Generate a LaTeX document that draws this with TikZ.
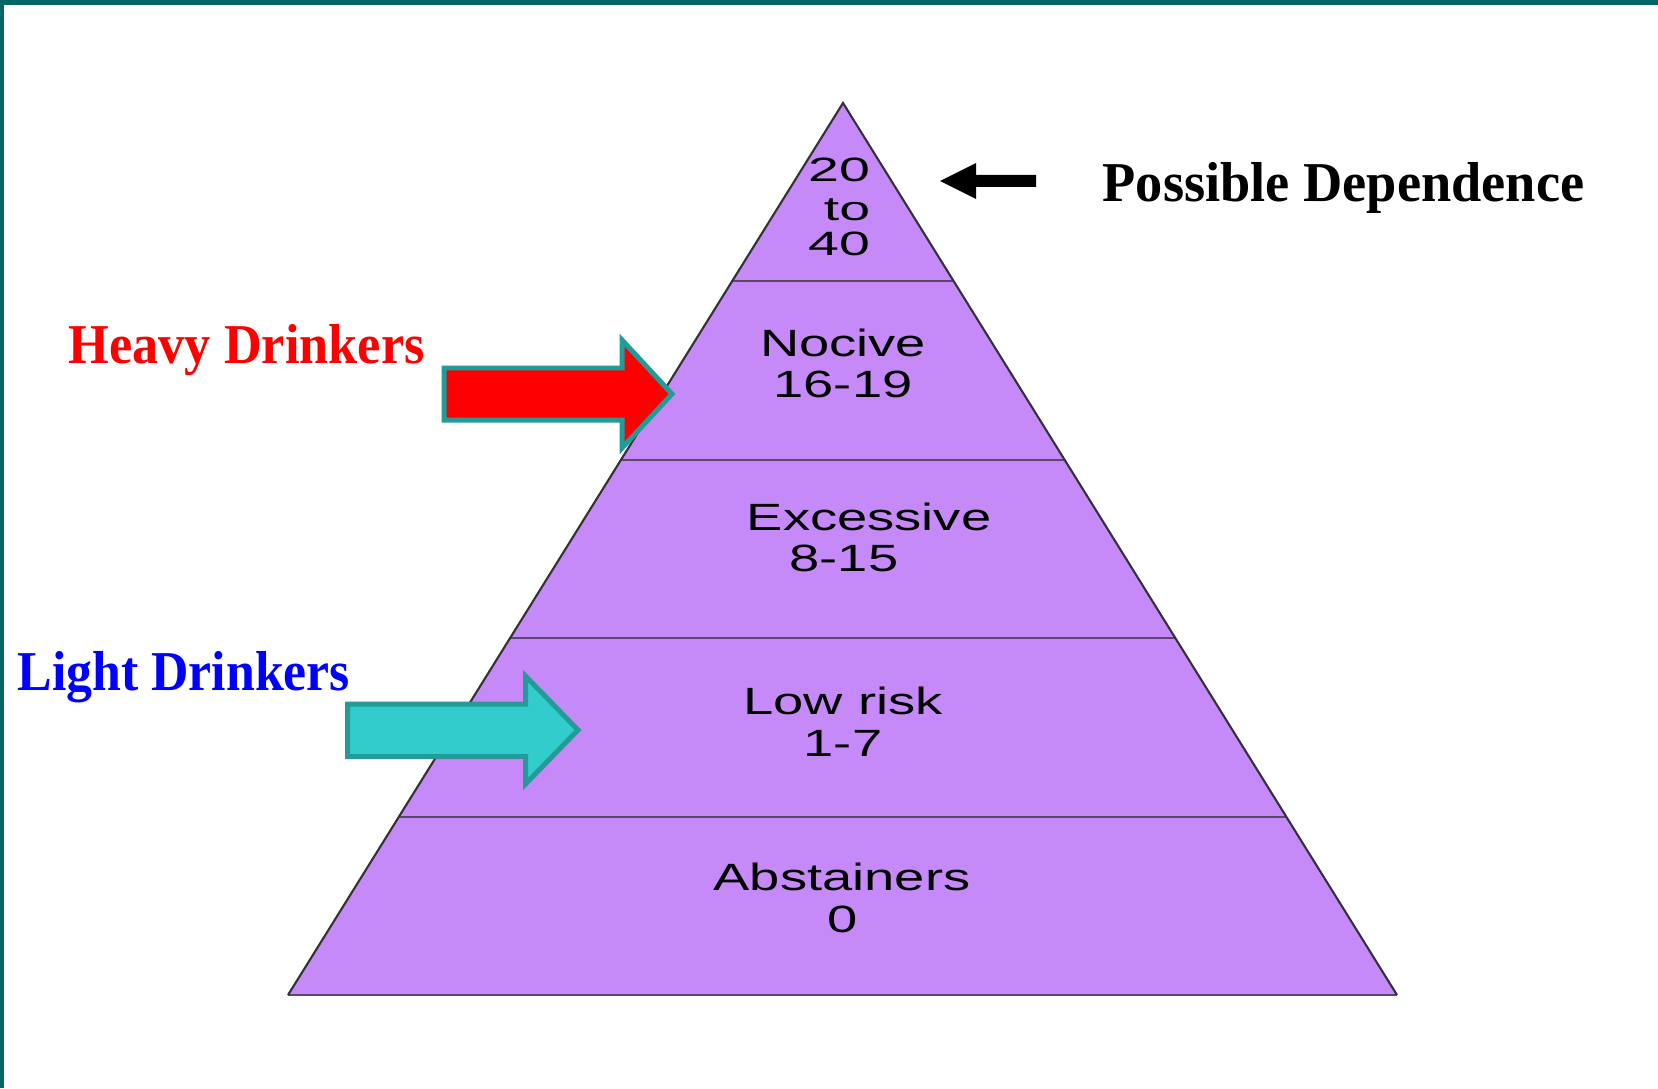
\documentclass[tikz,border=0pt]{standalone}
\usepackage{fontspec}
\setmainfont{Liberation Serif}
\newfontfamily\tierfont{Liberation Sans}
\usetikzlibrary{calc}
\definecolor{frameteal}{RGB}{0,102,102}
\definecolor{arrowteal}{RGB}{35,155,153}
\definecolor{lightcyan}{RGB}{51,204,204}
\definecolor{pyrpurple}{RGB}{198,138,248}
\definecolor{tierline}{RGB}{90,70,110}

\begin{document}
\begin{tikzpicture}[x=0.01cm,y=-0.01cm,
  tier/.style={font=\tierfont\fontsize{10.8}{12}\selectfont,xscale=1.43,inner sep=0,anchor=base},
  toptier/.style={tier,font=\tierfont\fontsize{9.6}{11}\selectfont,xscale=1.15},
  side/.style={font=\bfseries\fontsize{16}{19}\selectfont,xscale=0.93,inner sep=0,anchor=base west},
  blockarrow/.style={draw=arrowteal,line width=1.42pt}]
\useasboundingbox (0,0) rectangle (1658,1088);
\fill[white] (0,0) rectangle (1658,1088);
% frame
\fill[frameteal] (0,0) rectangle (1658,5);
\fill[frameteal] (0,0) rectangle (4,1088);
% pyramid
\coordinate (apex) at (843,103);
\coordinate (bl) at (288,995);
\coordinate (br) at (1397,995);
\fill[pyrpurple] (apex) -- (br) -- (bl) -- cycle;
\foreach \t in {0.2,0.4,0.6,0.8}
\draw[tierline,line width=0.55pt] ($(apex)!\t!(bl)$) -- ($(apex)!\t!(br)$);
\draw[tierline,line width=0.55pt] (bl) -- (br);
\draw[black!80,line width=0.6pt] (bl) -- (apex) -- (br);
% tier labels
\node[toptier] (top-a) at (839,181.7) {20};
\node[toptier] (top-b) at (847,220) {to};
\node[toptier] (top-c) at (839,255) {40};
\node[tier] (nocive) at (843,356) {Nocive};
\node[tier] (nocive-n) at (843,397.6) {16-19};
\node[tier] (excess) at (869,530) {Excessive};
\node[tier] (excess-n) at (844,571.7) {8-15};
\node[tier] (lowrisk) at (843,714) {Low risk};
\node[tier] (lowrisk-n) at (843,756) {1-7};
\node[tier] (abstain) at (842,890) {Abstainers};
\node[tier] (abstain-n) at (843,932.7) {0};
% block arrows
\draw[blockarrow,fill=red] (444,368) -- (622,368) -- (622,340) -- (672,394)
  -- (622,448) -- (622,420) -- (444,420) -- cycle;
\draw[blockarrow,fill=lightcyan] (347.5,704) -- (525.5,704) -- (525.5,676) -- (578,730)
  -- (525.5,784) -- (525.5,756.5) -- (347.5,756.5) -- cycle;
\fill[black] (940,181) -- (976,163) -- (976,175) -- (1036,175) -- (1036,187)
  -- (976,187) -- (976,199) -- cycle;
% side labels
\node[side,text=red] (heavy) at (68,363) {Heavy Drinkers};
\node[side,text=blue,xscale=0.99] (light) at (17,690) {Light Drinkers};
\node[side,xscale=1.039] (depend) at (1102,201.7) {Possible Dependence};
\end{tikzpicture}
\end{document}
